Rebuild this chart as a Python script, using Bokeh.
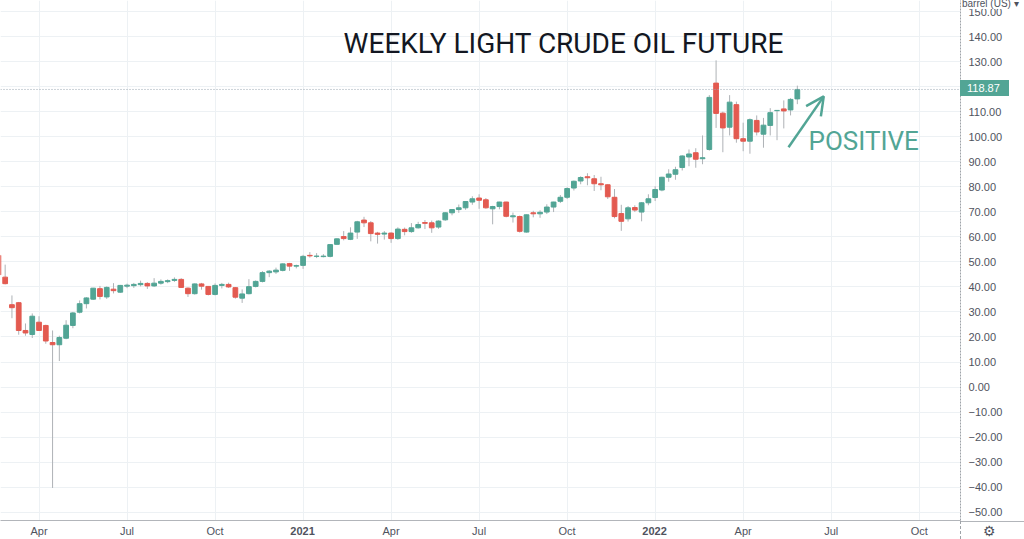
import numpy as np
from bokeh.plotting import figure
from bokeh.layouts import column
from bokeh.models import (ColumnDataSource, FixedTicker, Range1d, Label, Span,
                          Arrow, OpenHead, CustomJSTickFormatter, Div)
from bokeh.embed import file_html
from bokeh.resources import INLINE

# Weekly candles, one per week, first week starting Monday 2020-02-24, last 2022-05-30
opens = [52.6, 43.9, 32.9, 33.7, 22.6, 21.0, 25.9, 24.6, 17.8, 16.9,
         19.5, 24.6, 29.9, 33.3, 35.1, 39.3, 36.0, 39.1, 37.9, 40.3,
         40.5, 40.9, 41.4, 40.4, 41.5, 42.1, 42.6, 43.0, 39.5, 37.3,
         41.2, 40.2, 37.0, 40.6, 41.0, 39.7, 35.5, 37.3, 40.2, 42.2,
         45.7, 46.0, 46.6, 49.3, 48.3, 48.6, 52.6, 52.2, 52.1, 52.2,
         57.0, 60.1, 59.0, 61.9, 66.7, 65.6, 61.5, 61.1, 61.5, 59.3,
         63.0, 62.1, 63.6, 65.7, 65.6, 63.9, 66.8, 69.6, 70.9, 71.6,
         73.9, 75.5, 74.8, 71.2, 72.1, 73.9, 68.0, 68.1, 61.9, 69.6,
         69.2, 69.9, 71.9, 74.2, 75.8, 79.5, 82.3, 84.0, 83.2, 81.2,
         80.8, 75.8, 69.3, 67.2, 71.7, 69.9, 73.6, 75.7, 78.7, 83.8,
         85.0, 87.7, 91.9, 93.6, 91.2, 94.9, 121.4, 109.4, 103.8, 112.8,
         99.2, 98.2, 106.5, 101.0, 104.5, 110.4, 111.1, 110.7, 115.1]
highs = [54.0, 48.9, 36.6, 34.0, 25.4, 29.4, 28.3, 24.9, 22.6, 20.5,
         26.7, 30.0, 34.6, 35.9, 39.6, 40.4, 40.2, 41.5, 40.8, 41.3,
         41.6, 42.5, 41.9, 43.5, 43.0, 43.0, 43.8, 43.5, 39.8, 41.4,
         41.6, 40.3, 41.4, 41.6, 41.7, 39.9, 39.0, 43.1, 42.6, 46.3,
         46.7, 47.7, 49.4, 49.6, 48.9, 52.8, 53.9, 53.5, 53.1, 57.0,
         59.4, 62.3, 63.8, 66.4, 68.0, 66.3, 62.0, 62.3, 61.8, 63.8,
         63.7, 65.5, 66.0, 66.7, 66.5, 66.6, 69.8, 71.0, 72.9, 74.3,
         76.2, 77.0, 75.5, 72.4, 74.0, 74.0, 69.7, 68.5, 68.9, 70.4,
         70.6, 73.0, 74.0, 76.7, 79.8, 82.5, 84.2, 85.4, 84.7, 84.0,
         81.0, 79.1, 72.8, 72.3, 72.6, 73.9, 77.0, 80.2, 84.0, 87.0,
         88.0, 92.6, 94.9, 95.4, 100.5, 116.6, 130.5, 110.0, 116.6, 114.0,
         105.6, 107.3, 108.5, 107.5, 111.4, 110.6, 114.5, 115.4, 120.4]
lows = [44.2, 41.0, 27.5, 20.9, 20.5, 19.6, 22.4, 17.3, -40.3, 10.4,
        19.1, 23.5, 29.4, 31.4, 34.8, 35.0, 35.2, 37.4, 37.6, 39.5,
        39.6, 40.2, 39.2, 40.0, 40.9, 41.5, 42.0, 39.6, 36.0, 36.9,
        38.9, 36.6, 36.6, 39.4, 39.6, 35.3, 33.6, 37.0, 39.8, 41.8,
        43.9, 45.2, 46.2, 46.4, 47.4, 47.2, 51.7, 51.5, 51.8, 51.8,
        56.9, 58.6, 58.7, 59.2, 63.9, 58.2, 57.3, 58.9, 57.6, 58.8,
        60.6, 61.6, 63.3, 63.1, 61.6, 63.2, 66.4, 68.6, 69.6, 70.8,
        72.8, 71.2, 71.2, 65.0, 71.0, 67.8, 65.7, 61.7, 61.7, 67.8,
        67.6, 69.1, 69.9, 73.5, 75.1, 78.5, 81.0, 80.6, 78.3, 78.6,
        75.1, 67.4, 62.4, 66.1, 69.9, 66.2, 72.6, 74.3, 78.2, 82.0,
        82.8, 86.5, 88.2, 87.6, 89.0, 94.4, 103.5, 93.8, 100.5, 97.6,
        94.2, 93.2, 100.5, 95.6, 100.5, 98.6, 103.3, 108.5, 113.0]
closes = [44.8, 41.3, 31.7, 22.6, 21.6, 28.3, 22.6, 18.4, 16.9, 19.8,
          24.7, 29.6, 33.3, 35.6, 39.5, 36.2, 39.8, 38.5, 40.6, 40.7,
          41.0, 41.4, 40.4, 41.5, 42.2, 42.5, 43.0, 39.8, 37.3, 41.2,
          40.3, 37.0, 40.6, 41.0, 40.0, 35.9, 37.2, 40.1, 42.2, 45.7,
          46.3, 46.7, 49.2, 48.3, 48.5, 52.2, 52.4, 52.3, 52.3, 56.9,
          59.2, 59.3, 61.5, 66.0, 65.6, 61.3, 61.0, 61.5, 59.3, 63.1,
          62.1, 63.6, 64.9, 65.4, 63.6, 66.3, 69.6, 70.9, 71.6, 74.1,
          75.2, 74.6, 71.6, 72.1, 73.9, 68.2, 68.4, 62.2, 68.8, 69.2,
          69.8, 71.9, 73.9, 75.8, 79.3, 82.2, 83.7, 83.6, 81.2, 80.8,
          76.0, 68.1, 66.2, 71.6, 70.7, 73.6, 75.2, 78.9, 83.8, 85.1,
          86.8, 92.3, 93.1, 91.0, 91.6, 115.7, 109.3, 103.5, 113.8, 99.2,
          98.2, 106.8, 101.9, 104.6, 109.6, 110.5, 110.3, 114.9, 118.87]

# x tick positions (week index) and labels
tick_weeks = [6, 19, 32, 45, 58, 71, 84, 97, 110, 123, 136]
tick_labels = ["Apr", "Jul", "Oct", "2021", "Apr", "Jul", "Oct", "2022", "Apr", "Jul", "Oct"]
y_ticks = list(range(-50, 151, 10))

UP = "#52a595"
DOWN = "#e35a50"
WICK = "#aeb2b6"
AXIS_TXT = "#50535e"
FONT = "Liberation Sans"

W, H = 1024, 539
BR, BB = 64, 18          # right / bottom borders (axis panels)
X0, X1 = 0.31, 142.1
Y0, Y1 = -53.3, 154.4

o = np.array(opens); h = np.array(highs); l = np.array(lows); c = np.array(closes)
idx = np.arange(len(c))
src = ColumnDataSource(dict(
    x=idx, high=h, low=l,
    top=np.maximum(o, c), bottom=np.minimum(o, c),
    color=np.where(c >= o, UP, DOWN),
))

p = figure(width=W, height=H, output_backend="svg", toolbar_location=None,
           y_axis_location="right",
           x_range=Range1d(X0, X1), y_range=Range1d(Y0, Y1),
           min_border_left=0, min_border_top=0, min_border_right=BR, min_border_bottom=BB)
p.outline_line_color = None
p.background_fill_color = "white"

# grid
p.xgrid.grid_line_color = "#edf1f4"
p.ygrid.grid_line_color = "#edf1f4"
p.ygrid.ticker = FixedTicker(ticks=y_ticks)

# axes (year labels are drawn bold further below)
p.xaxis.ticker = FixedTicker(ticks=tick_weeks)
p.xaxis.major_label_overrides = {t: ("" if lab.isdigit() else lab)
                                 for t, lab in zip(tick_weeks, tick_labels)}
p.yaxis.ticker = FixedTicker(ticks=y_ticks)
p.yaxis.formatter = CustomJSTickFormatter(code="return (tick < 0 ? '\u2212' : '') + Math.abs(tick).toFixed(2);")
for ax in (p.xaxis[0], p.yaxis[0]):
    ax.major_tick_line_color = None
    ax.minor_tick_line_color = None
    ax.major_tick_in = 0
    ax.major_tick_out = 0
    ax.major_label_text_font = FONT
    ax.major_label_text_font_size = "11px"
    ax.major_label_text_color = AXIS_TXT
p.xaxis.major_label_standoff = 4
p.yaxis.major_label_standoff = 8
p.xaxis.axis_line_color = "#b2b5ba"
p.yaxis.axis_line_color = "#9ea3a8"
p.yaxis.axis_line_dash = "2 1"

# candles
p.segment(x0="x", y0="high", x1="x", y1="low", source=src, line_color=WICK, line_width=1)
p.vbar(x="x", width=0.7, top="top", bottom="bottom", source=src,
       fill_color="color", line_color="color", line_width=1)

# last price line
last = closes[-1]
p.add_layout(Span(location=last, dimension="width", line_color="#9aa6b0",
                  line_dash="1 2", line_width=1))

# title and annotation
p.add_layout(Label(x=83.5, y=137.1, text="WEEKLY LIGHT CRUDE OIL FUTURE",
                   text_align="center", text_baseline="alphabetic",
                   text_font="Roboto", text_font_size="28px", text_color="#131722"))
p.add_layout(Label(x=127.8, y=98.2, text="POSITIVE", text_align="center",
                   text_baseline="alphabetic", text_font="Roboto",
                   text_font_size="26px", text_color=UP))
p.add_layout(Arrow(x_start=116.7, y_start=95.8, x_end=121.9, y_end=116.1,
                   line_color=UP, line_width=2.5,
                   end=OpenHead(size=18, line_color=UP, line_width=2.5)))

# elements of the price/time scales that sit outside the plotting frame
frame_w = W - BR
frame_h = H - BB

def sx(xv):
    return (xv - X0) / (X1 - X0) * frame_w

def sy(yv):
    return (Y1 - yv) / (Y1 - Y0) * frame_h

def overlay(text, left, top, extra):
    st = {"position": "absolute", "left": f"{left:.1f}px", "top": f"{top:.1f}px",
          "font-family": FONT, "font-size": "11px", "color": AXIS_TXT,
          "white-space": "nowrap", "line-height": "13px"}
    st.update(extra)
    return Div(text=text, styles=st, margin=0)

overlays = []
overlays.append(overlay(f"{last:.2f}", frame_w, sy(last) - 9.5,
                        {"background-color": UP, "color": "white", "width": "49px",
                         "height": "16px", "line-height": "16px", "padding-left": "7px"}))
overlays.append(overlay("barrel (US) \u25be", frame_w + 2, -2,
                        {"font-size": "10px", "background-color": "white",
                         "line-height": "11px", "padding-right": "4px"}))
overlays.append(overlay("\u2699", frame_w + 23, frame_h + 3,
                        {"font-size": "14px", "font-family": "DejaVu Sans",
                         "line-height": "14px"}))
for t, lab in zip(tick_weeks, tick_labels):
    if lab.isdigit():
        overlays.append(overlay(lab, sx(t) - 20, frame_h + 4,
                                {"width": "40px", "text-align": "center",
                                 "font-weight": "bold"}))
# continuation of the scale borders into the corner
overlays.append(overlay("", frame_w, frame_h, {"width": f"{BR}px", "height": "0px",
                                               "border-top": "1px solid #b2b5ba"}))
overlays.append(overlay("", frame_w, frame_h, {"width": "0px", "height": f"{BB}px",
                                               "border-left": "1px dashed #9ea3a8"}))

layout = column(p, *overlays, styles={"position": "relative"})

open("out.html", "w").write(file_html(layout, INLINE))
